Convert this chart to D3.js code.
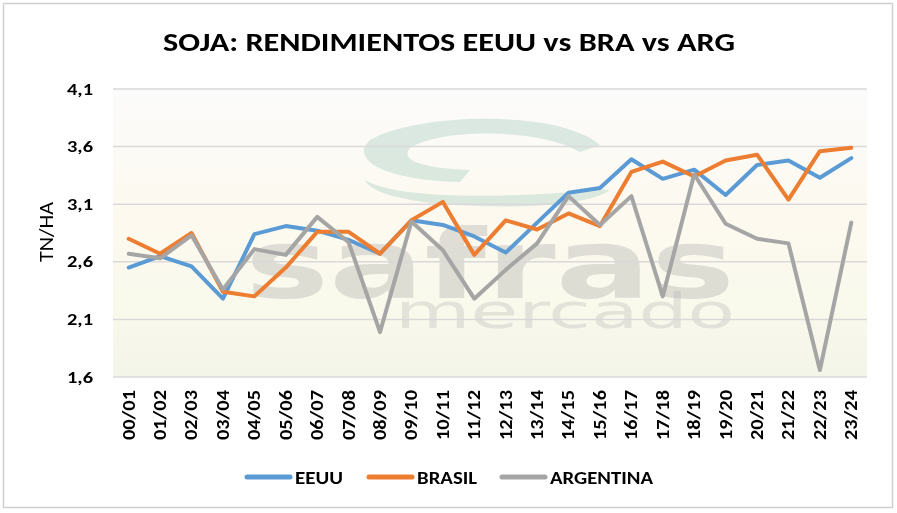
<!DOCTYPE html>
<html><head><meta charset="utf-8">
<script src="https://cdn.jsdelivr.net/npm/d3@7"></script>
<style>body{margin:0;background:#fff}#wrap{position:relative;width:897px;height:513px}
#bgc,#c{position:absolute;left:0;top:0;display:block}</style>
</head><body>
<div id="wrap"><canvas id="bgc" width="897" height="513"></canvas><svg id="c" width="897" height="513"></svg></div>
<script>
const categories = ["00/01","01/02","02/03","03/04","04/05","05/06","06/07","07/08","08/09","09/10","10/11","11/12","12/13","13/14","14/15","15/16","16/17","17/18","18/19","19/20","20/21","21/22","22/23","23/24"];
const eeuu = [2.55,2.65,2.56,2.28,2.84,2.91,2.87,2.79,2.67,2.96,2.92,2.82,2.68,2.94,3.20,3.24,3.49,3.32,3.40,3.18,3.44,3.48,3.33,3.50];
const brasil = [2.80,2.67,2.85,2.34,2.30,2.55,2.86,2.86,2.67,2.96,3.12,2.66,2.96,2.88,3.02,2.91,3.38,3.47,3.34,3.48,3.53,3.14,3.56,3.59];
const argentina = [2.67,2.63,2.83,2.36,2.71,2.66,2.99,2.77,1.99,2.95,2.70,2.28,2.53,2.76,3.17,2.92,3.17,2.30,3.36,2.93,2.80,2.76,1.66,2.94];
const yTicks = [1.6,2.1,2.6,3.1,3.6,4.1];
const seriesNames = ["EEUU","BRASIL","ARGENTINA"];
const colors = ["#5B9BD5","#ED7D31","#A5A5A5"];
const series = [eeuu, brasil, argentina];

const svg = d3.select("#c");
const W = 897, H = 513;
const m = {left:113, right:867, top:89, bottom:377};
const font = "Carlito, Calibri, Lato, 'Open Sans', sans-serif";

const x = d3.scaleBand().domain(categories).range([m.left, m.right]);
const y = d3.scaleLinear().domain([1.6,4.1]).range([m.bottom, m.top]);

// background picture (gradient + faint logo watermark) on a canvas
const ctx = document.getElementById("bgc").getContext("2d");
ctx.fillStyle = "#fff"; ctx.fillRect(0,0,W,H);
const grd = ctx.createLinearGradient(0,m.top,0,m.bottom);
grd.addColorStop(0,"#fbfbfb"); grd.addColorStop(0.45,"#fdf9ef");
grd.addColorStop(0.75,"#f9f9ec"); grd.addColorStop(1,"#f3f5e8");
ctx.fillStyle = grd; ctx.fillRect(m.left,m.top,m.right-m.left,m.bottom-m.top);
ctx.globalAlpha = 0.3;
ctx.fillStyle = "#8fbfae";
ctx.fill(new Path2D("M600,145 C560,110 420,112 370,140 C350,158 380,180 460,182 L470,170 C420,168 400,160 410,148 C440,128 540,128 580,152 Z"));
ctx.fill(new Path2D("M610,190 C590,205 520,210 440,204 C400,200 370,192 365,180 C390,196 470,198 540,194 C580,192 600,188 610,190 Z"));
ctx.fillStyle = "#9a9a9a";
ctx.font = "bold 96px 'DejaVu Sans'";
ctx.save(); ctx.translate(245,298); ctx.scale(490/ctx.measureText("safras").width,1); ctx.fillText("safras",0,0); ctx.restore();
ctx.fillStyle = "#b0b0b0";
ctx.font = "48px 'DejaVu Sans'";
ctx.save(); ctx.translate(395,328); ctx.scale(340/ctx.measureText("mercado").width,1); ctx.fillText("mercado",0,0); ctx.restore();
ctx.globalAlpha = 1;

// outer border
svg.append("rect").attr("x",3.5).attr("y",3.5).attr("width",W-8).attr("height",H-9)
  .attr("fill","none").attr("stroke","#d0d0d0").attr("stroke-width",1.5);

// gridlines
svg.append("g").selectAll("line").data(yTicks).join("line")
  .attr("x1",m.left).attr("x2",m.right).attr("y1",d=>y(d)).attr("y2",d=>y(d))
  .attr("stroke","#d9d9d9").attr("stroke-width",1.5);

// y axis
const yAxis = svg.append("g").attr("transform",`translate(${m.left},0)`)
  .call(d3.axisLeft(y).tickValues(yTicks).tickSize(0).tickPadding(20).tickFormat(d=>d3.format(".1f")(d).replace(".",",")));
yAxis.select(".domain").remove();
yAxis.selectAll("text").attr("font-family",font).attr("font-weight","bold").attr("font-size",16).attr("fill","#000")
  .attr("textLength",26).attr("lengthAdjust","spacingAndGlyphs");

// x axis
const xAxis = svg.append("g").attr("transform",`translate(0,${m.bottom})`)
  .call(d3.axisBottom(x).tickSize(0).tickPadding(0));
xAxis.select(".domain").remove();
xAxis.selectAll("text").attr("font-family",font).attr("font-weight","bold").attr("font-size",17).attr("fill","#000")
  .attr("transform","rotate(-90)").attr("text-anchor","end").attr("x",-13).attr("y",0).attr("dy","0.35em")
  .attr("textLength",50).attr("lengthAdjust","spacingAndGlyphs");

// lines
const line = d3.line().x((d,i)=>x(categories[i])+x.bandwidth()/2).y(d=>y(d));
series.forEach((s,k)=>{
  svg.append("path").datum(s).attr("d",line).attr("fill","none")
    .attr("stroke",colors[k]).attr("stroke-width",4).attr("stroke-linejoin","round").attr("stroke-linecap","round");
});

// title
svg.append("text").attr("x",449).attr("y",51).attr("text-anchor","middle")
  .attr("font-family",font).attr("font-weight","bold").attr("font-size",26).attr("fill","#000")
  .attr("textLength",572).attr("lengthAdjust","spacingAndGlyphs")
  .text("SOJA: RENDIMIENTOS EEUU vs BRA vs ARG");

// y title
svg.append("text").attr("transform","translate(53,232) rotate(-90)").attr("text-anchor","middle")
  .attr("font-family",font).attr("font-size",20).attr("fill","#000")
  .attr("textLength",60).attr("lengthAdjust","spacingAndGlyphs").text("TN/HA");

// legend
const legX = [245,367,500];
const legW = [48,60,103];
const lg = svg.append("g");
seriesNames.forEach((n,k)=>{
  lg.append("line").attr("x1",legX[k]+2).attr("x2",legX[k]+45).attr("y1",477).attr("y2",477)
    .attr("stroke",colors[k]).attr("stroke-width",5).attr("stroke-linecap","round");
  lg.append("text").attr("x",legX[k]+50).attr("y",483.5).attr("font-family",font).attr("font-weight","bold")
    .attr("font-size",18).attr("fill","#000").attr("textLength",legW[k]).attr("lengthAdjust","spacingAndGlyphs").text(n);
});
</script>
</body></html>
